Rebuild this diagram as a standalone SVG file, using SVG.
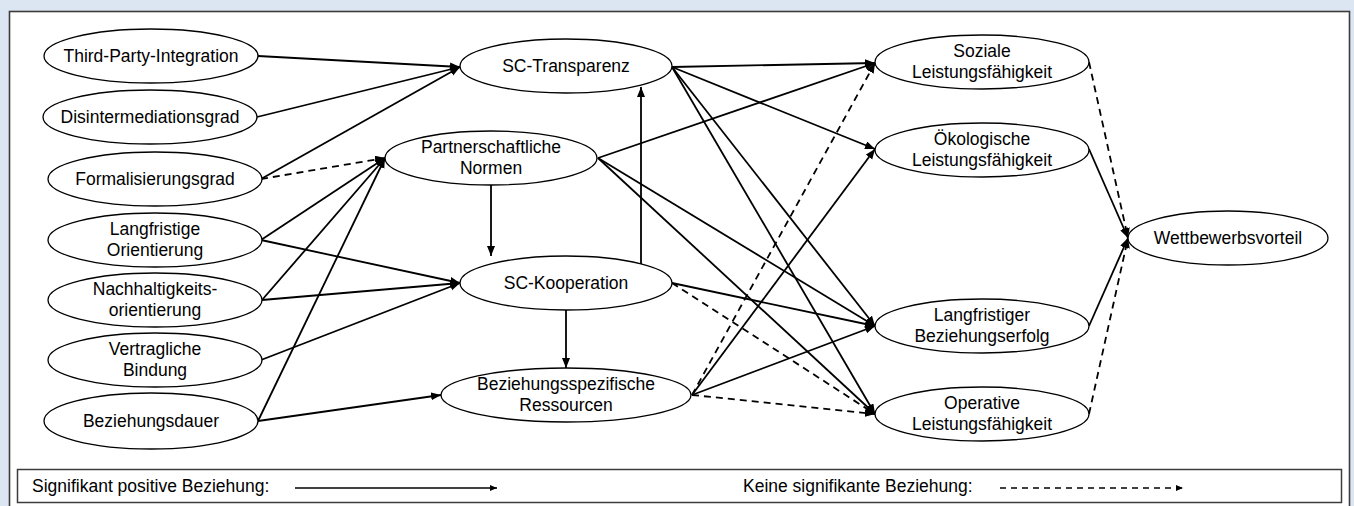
<svg xmlns="http://www.w3.org/2000/svg" width="1354" height="506" viewBox="0 0 1354 506">
<defs>
<marker id="ah" markerUnits="userSpaceOnUse" markerWidth="11" markerHeight="9" refX="10" refY="4" orient="auto">
<path d="M0,0 L10,4 L0,8 z" fill="#000"/>
</marker>
<marker id="ahs" markerUnits="userSpaceOnUse" markerWidth="8" markerHeight="6" refX="7" refY="3" orient="auto">
<path d="M0,0 L7,3 L0,6 z" fill="#000"/>
</marker>
<style>
.n ellipse{fill:#fff;stroke:#000;stroke-width:1.3}
text{font-family:"Liberation Sans",Arial,sans-serif;font-size:17.5px;fill:#000;text-anchor:middle}
.c line{stroke:#000;stroke-width:1.8;fill:none;marker-end:url(#ah)}
.c line.d{stroke-dasharray:7,5}
.lg line{stroke:#000;stroke-width:1.5;marker-end:url(#ahs)}
.lg line.d{stroke-dasharray:6,5}
</style>
</defs>
<rect x="0" y="0" width="1354" height="506" fill="#dce6f2"/>
<rect x="9.5" y="11.5" width="1340" height="500" fill="#fff" stroke="#3c3c3c" stroke-width="1.6"/>

<g class="c" id="connectors">
<line x1="258" y1="56" x2="460" y2="67"/>
<line x1="257" y1="117" x2="460" y2="67"/>
<line x1="261" y1="179" x2="460" y2="67"/>
<line x1="261" y1="240" x2="385" y2="158"/>
<line x1="262" y1="300" x2="385" y2="158"/>
<line x1="258" y1="421" x2="385" y2="158"/>
<line x1="261" y1="240" x2="460" y2="283"/>
<line x1="262" y1="300" x2="460" y2="283"/>
<line x1="261" y1="360" x2="460" y2="283"/>
<line x1="258" y1="421" x2="441" y2="395"/>
<line x1="491" y1="185" x2="491" y2="256"/>
<line x1="641" y1="264" x2="641" y2="87"/>
<line x1="566" y1="310" x2="566" y2="368"/>
<line x1="672" y1="67" x2="875" y2="63"/>
<line x1="672" y1="67" x2="875" y2="149"/>
<line x1="672" y1="67" x2="875" y2="326"/>
<line x1="672" y1="67" x2="875" y2="414"/>
<line x1="598" y1="158" x2="875" y2="63"/>
<line x1="598" y1="158" x2="875" y2="326"/>
<line x1="598" y1="158" x2="875" y2="414"/>
<line x1="672" y1="283" x2="875" y2="326"/>
<line x1="692" y1="395" x2="875" y2="149"/>
<line x1="692" y1="395" x2="875" y2="326"/>
<line x1="1089" y1="149" x2="1128" y2="238"/>
<line x1="1089" y1="326" x2="1128" y2="238"/>
<line class="d" x1="261" y1="179" x2="385" y2="158"/>
<line class="d" x1="672" y1="283" x2="875" y2="414"/>
<line class="d" x1="692" y1="395" x2="875" y2="63"/>
<line class="d" x1="692" y1="395" x2="875" y2="414"/>
<line class="d" x1="1089" y1="62" x2="1128" y2="238"/>
<line class="d" x1="1089" y1="414" x2="1128" y2="238"/>
</g>

<g class="n" id="n-tpi"><ellipse cx="151" cy="56" rx="107" ry="27"/><text x="151" y="62">Third-Party-Integration</text></g>
<g class="n" id="n-dis"><ellipse cx="150" cy="117" rx="107" ry="27"/><text x="150" y="123">Disintermediationsgrad</text></g>
<g class="n" id="n-for"><ellipse cx="155" cy="179" rx="107" ry="27"/><text x="155" y="185">Formalisierungsgrad</text></g>
<g class="n" id="n-lo"><ellipse cx="155" cy="240" rx="107" ry="27"/><text x="155" y="235">Langfristige</text><text x="155" y="256">Orientierung</text></g>
<g class="n" id="n-no"><ellipse cx="155" cy="300" rx="107" ry="27"/><text x="155" y="295">Nachhaltigkeits-</text><text x="155" y="316">orientierung</text></g>
<g class="n" id="n-vb"><ellipse cx="155" cy="360" rx="107" ry="27"/><text x="155" y="355">Vertragliche</text><text x="155" y="376">Bindung</text></g>
<g class="n" id="n-bd"><ellipse cx="151" cy="421" rx="107" ry="28"/><text x="151" y="427">Beziehungsdauer</text></g>

<g class="n" id="n-sct"><ellipse cx="566" cy="66" rx="106" ry="27"/><text x="566" y="72">SC-Transparenz</text></g>
<g class="n" id="n-pn"><ellipse cx="491" cy="158" rx="106" ry="27"/><text x="491" y="153">Partnerschaftliche</text><text x="491" y="174">Normen</text></g>
<g class="n" id="n-sck"><ellipse cx="566" cy="283" rx="106" ry="27"/><text x="566" y="289">SC-Kooperation</text></g>
<g class="n" id="n-bsr"><ellipse cx="566" cy="395" rx="125" ry="27"/><text x="566" y="390">Beziehungsspezifische</text><text x="566" y="411">Ressourcen</text></g>

<g class="n" id="n-soz"><ellipse cx="982" cy="62" rx="107" ry="27"/><text x="982" y="57">Soziale</text><text x="982" y="78">Leistungsfähigkeit</text></g>
<g class="n" id="n-oek"><ellipse cx="982" cy="150" rx="107" ry="27"/><text x="982" y="145">Ökologische</text><text x="982" y="166">Leistungsfähigkeit</text></g>
<g class="n" id="n-lbe"><ellipse cx="982" cy="326" rx="107" ry="27"/><text x="982" y="321">Langfristiger</text><text x="982" y="342">Beziehungserfolg</text></g>
<g class="n" id="n-op"><ellipse cx="982" cy="414" rx="107" ry="27"/><text x="982" y="409">Operative</text><text x="982" y="430">Leistungsfähigkeit</text></g>
<g class="n" id="n-wv"><ellipse cx="1228" cy="238" rx="100" ry="27"/><text x="1228" y="244">Wettbewerbsvorteil</text></g>

<g class="lg" id="legend">
<rect x="17.5" y="469.5" width="1324" height="33" fill="#fff" stroke="#3c3c3c" stroke-width="1.5"/>
<text x="32" y="492" style="text-anchor:start">Signifikant positive Beziehung:</text>
<line x1="295" y1="488" x2="497" y2="488"/>
<text x="743" y="492" style="text-anchor:start">Keine signifikante Beziehung:</text>
<line class="d" x1="1000" y1="488" x2="1183" y2="488"/>
</g>
</svg>
